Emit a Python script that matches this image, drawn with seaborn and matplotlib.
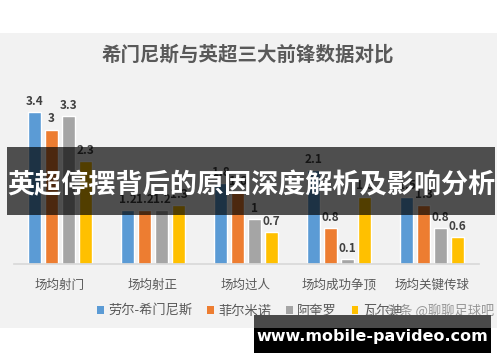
import matplotlib
matplotlib.use("Agg")
import matplotlib.pyplot as plt
from matplotlib.patches import Rectangle
import seaborn as sns
import pandas as pd

categories = ["场均射门", "场均射正", "场均过人", "场均成功争顶", "场均关键传球"]
players = ["劳尔-希门尼斯", "菲尔米诺", "阿奎罗", "瓦尔迪"]
jimenez = [3.4, 1.2, 1.8, 2.1, 1.5]
firmino = [3.0, 1.2, 1.6, 0.8, 1.3]
aguero = [3.3, 1.2, 1.0, 0.1, 0.8]
vardy = [2.3, 1.3, 0.7, 1.5, 0.6]
colors = ["#5B9BD5", "#ED7D31", "#A5A5A5", "#FFC000"]
title = "希门尼斯与英超三大前锋数据对比"
banner = "英超停摆背后的原因深度解析及影响分析"
site = "www.mobile-pavideo.com"
mark = "头条 @聊聊足球吧"

rows = []
for p, vals in zip(players, [jimenez, firmino, aguero, vardy]):
    for c, v in zip(categories, vals):
        rows.append({"cat": c, "player": p, "value": v})
df = pd.DataFrame(rows)

sns.set_theme(style="white")
plt.rcParams['font.family'] = ['Noto Sans CJK SC', 'DejaVu Sans']

W, H = 500, 362
fig = plt.figure(figsize=(5, 3.62), dpi=100, facecolor="white")

def fx(x):
    return x / W

def fy(y):
    return (H - y) / H

# chart panel background
fig.add_artist(Rectangle((0, fy(328)), fx(497), fy(33) - fy(328),
                         transform=fig.transFigure, facecolor="#f2f2f2",
                         edgecolor="none", zorder=-10))

ax = fig.add_axes([fx(13.5), fy(263.5), fx(478.5) - fx(13.5), fy(85) - fy(263.5)])
ax.set_facecolor("none")
sns.barplot(data=df, x="cat", y="value", hue="player", order=categories,
            hue_order=players, palette=colors, width=0.73, gap=0.235,
            saturation=1, ax=ax, legend=False)
ax.set_ylim(0, 4)
ax.set_xlim(-0.5, 4.5)
for cont in ax.containers:
    labels = [f"{b.get_height():g}" for b in cont]
    ax.bar_label(cont, labels=labels, padding=3, fontsize=8.5, color="#404040",
                 fontweight="bold")
for s in ["top", "right", "left"]:
    ax.spines[s].set_visible(False)
ax.spines["bottom"].set_color("#d9d9d9")
ax.set_yticks([])
ax.set_xlabel("")
ax.set_ylabel("")
ax.tick_params(axis="x", length=0, pad=11, labelsize=9, labelcolor="#595959")

# title
fig.text(fx(248), fy(55), title, ha="center", va="center", fontsize=14,
         color="#595959", fontweight="bold")

# legend
handles = [Rectangle((0, 0), 1, 1, facecolor=c, edgecolor="none") for c in colors]
fig.legend(handles, players, loc="center", bbox_to_anchor=(fx(250), fy(311)),
           ncol=4, frameon=False, fontsize=9.5, handlelength=0.5, handleheight=0.5,
           handletextpad=0.35, columnspacing=1.1, labelcolor="#595959")

fig.text(fx(440), fy(311), mark, ha="center", va="center", fontsize=9.5,
         color="#8c8c8c", alpha=0.9, zorder=6)

# banner overlay
fig.add_artist(Rectangle((fx(7), fy(215)), fx(495) - fx(7), fy(147) - fy(215),
                         transform=fig.transFigure, facecolor="black",
                         alpha=0.68, edgecolor="none", zorder=10))
fig.text(fx(251), fy(185), banner, ha="center", va="center", fontsize=19.5,
         color="white", fontweight="bold", zorder=11)

# site watermark box
fig.add_artist(Rectangle((fx(254), fy(328)), fx(491) - fx(254), fy(315) - fy(328),
                         transform=fig.transFigure, facecolor="#4a4a4a",
                         edgecolor="none", zorder=10))
fig.add_artist(Rectangle((fx(254), fy(353)), fx(491) - fx(254), fy(328) - fy(353),
                         transform=fig.transFigure, facecolor="black",
                         edgecolor="none", zorder=10))
fig.text(fx(372), fy(337), site, ha="center", va="center", fontsize=11.5,
         color="white", fontweight="bold", family="DejaVu Sans", zorder=11)

fig.savefig("out.png", dpi=100, facecolor="white")
